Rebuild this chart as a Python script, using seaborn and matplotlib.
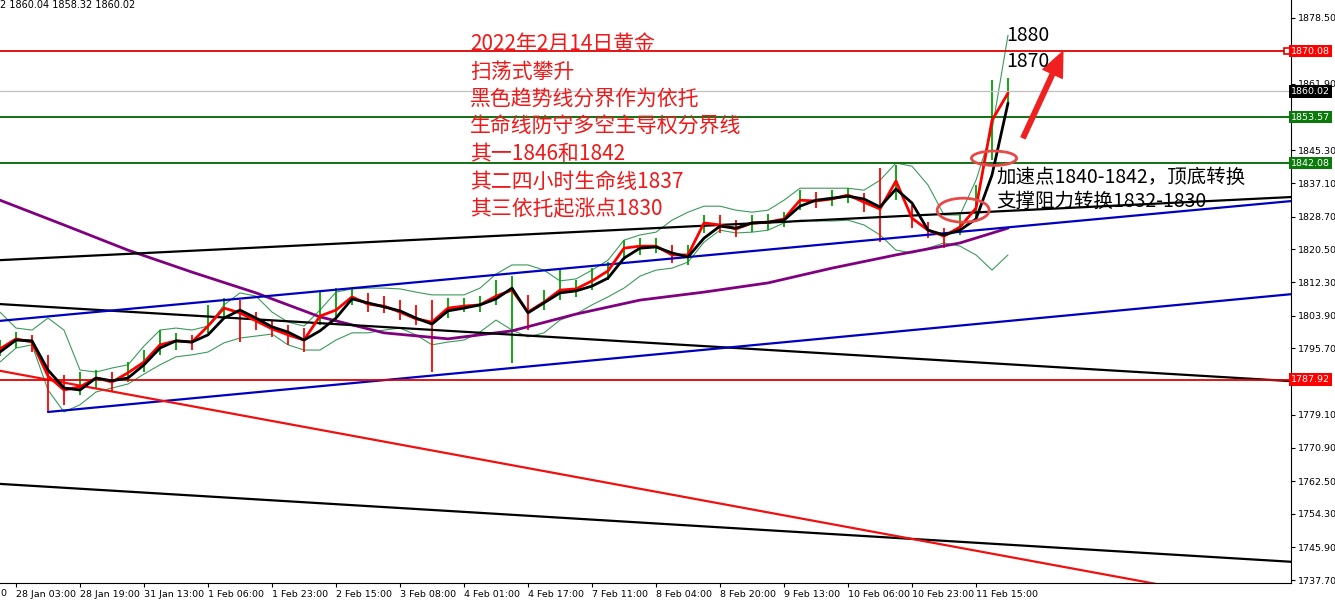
import numpy as np
import matplotlib
matplotlib.use("Agg")
import matplotlib.pyplot as plt
import matplotlib.transforms as mtransforms
from matplotlib.patches import Ellipse
import seaborn as sns

# XAUUSD H1, one sample every 4 bars (bar 0 = left edge of the window)
step = 4
ma_fast = [1795.6, 1798.1, 1797.3, 1788.8, 1785.3, 1786.1, 1788.3, 1787.3,
           1789.6, 1792.3, 1796.6, 1797.6, 1797.3, 1801.3, 1805.8, 1804.6,
           1802.6, 1800.6, 1799.1, 1797.8, 1803.8, 1805.3, 1808.6, 1806.8,
           1806.3, 1804.8, 1803.1, 1802.3, 1805.8, 1806.3, 1806.6, 1808.8,
           1810.3, 1804.8, 1807.3, 1810.3, 1810.6, 1812.6, 1815.1, 1820.8,
           1821.3, 1821.3, 1819.1, 1819.1, 1827.1, 1826.6, 1825.6, 1827.1,
           1827.3, 1828.1, 1832.8, 1832.6, 1833.1, 1834.1, 1832.3, 1830.6,
           1837.6, 1828.3, 1825.3, 1823.8, 1826.1, 1830.8, 1852.8, 1859.6]
ma_slow = [1794.8, 1797.8, 1797.6, 1790.3, 1785.8, 1785.3, 1788.3, 1787.6,
           1788.3, 1791.6, 1795.8, 1797.6, 1797.3, 1799.1, 1803.3, 1805.3,
           1803.3, 1801.1, 1799.8, 1797.8, 1800.1, 1803.3, 1808.1, 1807.1,
           1806.1, 1805.1, 1803.3, 1801.8, 1805.1, 1805.8, 1806.6, 1808.1,
           1810.8, 1804.6, 1807.1, 1809.6, 1810.1, 1811.3, 1813.3, 1818.3,
           1820.8, 1821.1, 1819.6, 1818.6, 1823.3, 1826.3, 1825.8, 1827.1,
           1827.3, 1827.8, 1831.3, 1832.8, 1833.3, 1833.8, 1833.1, 1831.1,
           1835.6, 1832.1, 1825.3, 1824.1, 1825.3, 1828.1, 1839.1, 1857.1]
band_up = [1804.8, 1800.8, 1800.3, 1803.3, 1800.3, 1790.3, 1789.8, 1790.8,
           1791.6, 1796.3, 1800.3, 1800.8, 1800.3, 1801.3, 1806.6, 1809.6,
           1808.8, 1804.8, 1802.3, 1801.3, 1805.3, 1809.8, 1810.6, 1810.8,
           1810.8, 1810.6, 1809.8, 1809.1, 1809.1, 1809.1, 1810.8, 1814.3,
           1816.6, 1816.6, 1815.3, 1812.6, 1813.1, 1815.3, 1817.8, 1822.8,
           1824.1, 1824.8, 1827.8, 1829.8, 1831.3, 1831.3, 1830.3, 1829.8,
           1830.3, 1832.8, 1835.8, 1835.8, 1835.8, 1835.8, 1835.3, 1837.8,
           1842.1, 1841.3, 1836.6, 1829.1, 1829.1, 1837.8, 1850.3, 1874.1]
band_dn = [1792.3, 1795.8, 1796.6, 1785.3, 1779.8, 1781.6, 1784.8, 1785.8,
           1786.8, 1789.3, 1791.6, 1793.6, 1794.1, 1794.8, 1797.1, 1798.3,
           1798.8, 1799.3, 1796.6, 1795.3, 1795.3, 1797.8, 1799.6, 1799.6,
           1800.3, 1800.8, 1799.1, 1796.6, 1797.3, 1797.8, 1799.8, 1802.8,
           1800.3, 1798.6, 1799.6, 1802.8, 1804.3, 1806.6, 1808.6, 1810.8,
           1813.8, 1815.3, 1815.8, 1817.3, 1822.3, 1825.3, 1824.6, 1824.8,
           1825.3, 1827.1, 1827.8, 1827.6, 1827.6, 1827.8, 1826.6, 1824.1,
           1820.3, 1819.6, 1820.8, 1822.1, 1821.3, 1819.1, 1815.3, 1819.1]
bar_high = [1797.8, 1799.8, 1799.1, 1794.1, 1789.1, 1789.8, 1790.3, 1789.8,
            1792.3, 1795.3, 1800.3, 1799.6, 1799.1, 1806.6, 1808.3, 1807.8,
            1804.8, 1802.8, 1801.6, 1800.8, 1810.3, 1810.8, 1810.8, 1809.6,
            1808.8, 1807.8, 1806.6, 1807.8, 1808.3, 1808.3, 1808.8, 1812.8,
            1813.8, 1809.1, 1810.3, 1815.3, 1812.8, 1815.8, 1817.3, 1822.8,
            1823.3, 1823.3, 1821.6, 1821.6, 1829.1, 1829.1, 1827.8, 1829.1,
            1829.3, 1829.8, 1835.3, 1834.8, 1835.3, 1835.8, 1834.6, 1840.8,
            1841.6, 1831.6, 1827.3, 1825.8, 1829.1, 1836.6, 1862.8, 1863.3]
bar_low = [1793.8, 1795.8, 1794.8, 1779.8, 1781.6, 1784.1, 1785.8, 1784.8,
           1787.3, 1789.8, 1794.1, 1795.3, 1795.3, 1799.6, 1803.3, 1797.3,
           1800.3, 1798.6, 1796.6, 1794.8, 1801.6, 1802.8, 1806.6, 1804.8,
           1804.6, 1802.8, 1801.6, 1789.8, 1803.3, 1804.8, 1804.8, 1806.6,
           1792.1, 1800.3, 1805.3, 1807.8, 1808.6, 1810.3, 1812.8, 1817.8,
           1819.1, 1819.6, 1817.1, 1816.6, 1824.6, 1824.6, 1823.6, 1824.8,
           1825.3, 1826.1, 1830.3, 1830.8, 1831.3, 1832.1, 1829.8, 1822.3,
           1832.8, 1825.8, 1823.3, 1820.8, 1824.1, 1828.3, 1842.8, 1857.3]

# long moving average (purple), own sample points
ma_long_bar = [0, 16, 32, 48, 64, 80, 96, 112, 128, 144, 160, 176, 192, 208, 224, 240, 252]
ma_long = [1832.8, 1826.6, 1820.3, 1814.8, 1809.6, 1803.6, 1799.6, 1798.1, 1800.1,
           1804.3, 1807.8, 1809.8, 1812.1, 1815.8, 1819.1, 1822.1, 1825.8]

# hand drawn trend lines: (bar, price) -> (bar, price)
trend_black = [((0, 1817.8), (323, 1833.6)),
               ((0, 1806.8), (323, 1787.5)),
               ((0, 1761.8), (323, 1742.3))]
trend_blue = [((0, 1802.6), (323, 1832.6)),
              ((12, 1779.8), (323, 1809.3))]
trend_red = [((0, 1790.1), (323, 1730.5))]

levels = [1870.08, 1860.02, 1853.57, 1842.08, 1787.92]
level_colors = ["#e00000", "#c0c0c0", "#006400", "#006400", "#e00000"]
level_box = ["#ff0000", "#000000", "#0a7a0a", "#0a7a0a", "#ff0000"]

y_ticks = [1878.50, 1861.90, 1845.30, 1837.10, 1828.70, 1820.50, 1812.30, 1803.90,
           1795.70, 1779.10, 1770.90, 1762.50, 1754.30, 1745.90, 1737.70]
x_labels = ["28 Jan 03:00", "28 Jan 19:00", "31 Jan 13:00", "1 Feb 06:00",
            "1 Feb 23:00", "2 Feb 15:00", "3 Feb 08:00", "4 Feb 01:00",
            "4 Feb 17:00", "7 Feb 11:00", "8 Feb 04:00", "8 Feb 20:00",
            "9 Feb 13:00", "10 Feb 06:00", "10 Feb 23:00", "11 Feb 15:00"]

notes = ["2022年2月14日黄金", "扫荡式攀升", "黑色趋势线分界作为依托",
         "生命线防守多空主导权分界线", "其一1846和1842",
         "其二四小时生命线1837", "其三依托起涨点1830"]

sns.set_style("white")
plt.rcParams['font.family'] = ['Noto Sans CJK SC', 'DejaVu Sans']

W, H = 1335, 604
fig = plt.figure(figsize=(W / 100, H / 100), dpi=100)
ax = fig.add_axes([0, 21 / H, 1291 / W, 583 / H])

bars = np.arange(len(ma_fast)) * step

# bollinger bands
sns.lineplot(x=bars, y=band_up, ax=ax, color="#3c9a5c", lw=0.8, zorder=2)
sns.lineplot(x=bars, y=band_dn, ax=ax, color="#3c9a5c", lw=0.8, zorder=2)

# price bars
prev = np.r_[ma_fast[0], ma_fast[:-1]]
cols = ["#00a000" if c >= p else "#ff0000" for c, p in zip(ma_fast, prev)]
ax.vlines(bars, bar_low, bar_high, colors=cols, lw=1.3, zorder=3)

sns.lineplot(x=ma_long_bar, y=ma_long, ax=ax, color="#800080", lw=2, zorder=3)

for (b0, p0), (b1, p1) in trend_black:
    ax.plot([b0, b1], [p0, p1], color="black", lw=1.6, zorder=4)
for (b0, p0), (b1, p1) in trend_blue:
    ax.plot([b0, b1], [p0, p1], color="#0000c0", lw=1.6, zorder=4)
for (b0, p0), (b1, p1) in trend_red:
    ax.plot([b0, b1], [p0, p1], color="#f01010", lw=1.6, zorder=4)

sns.lineplot(x=bars, y=ma_fast, ax=ax, color="#ff0000", lw=2, zorder=5)
sns.lineplot(x=bars, y=ma_slow, ax=ax, color="black", lw=2, zorder=6)

yx = mtransforms.blended_transform_factory(ax.transAxes, ax.transData)
for lv, lc, bc in zip(levels, level_colors, level_box):
    ax.axhline(lv, color=lc, lw=1.3 if lc != "#c0c0c0" else 0.9, zorder=4)
    ax.text(1.0, lv, "%.2f" % lv, transform=yx, ha="left", va="center",
            color="white", fontsize=6.8, family="DejaVu Sans", zorder=10,
            clip_on=False,
            bbox=dict(boxstyle="square,pad=0.18", fc=bc, ec="none"))
ax.plot([0.997], [levels[0]], marker="s", ms=4, mfc="white", mec="#e00000",
        mew=1.2, transform=yx, clip_on=False, zorder=8)

# support / breakout circles and target arrow
ax.add_patch(Ellipse((248.5, 1843.3), 11.3, 3.6, fill=False, ec="#e84848", lw=2, zorder=7))
ax.add_patch(Ellipse((240.8, 1830.3), 13.0, 6.0, fill=False, ec="#e84848", lw=2, zorder=7))
ax.annotate("", xy=(266.0, 1870.6), xytext=(255.5, 1847.8),
            arrowprops=dict(arrowstyle="simple,head_length=0.8,head_width=0.7,tail_width=0.15",
                            color="#f02020", mutation_scale=22), zorder=8)

ax.text(251.5, 1874.0, "1880", fontsize=14, color="black", va="center", zorder=9)
ax.text(251.5, 1867.6, "1870", fontsize=14, color="black", va="center", zorder=9)
ax.text(249.0, 1838.6, "加速点1840-1842，顶底转换", fontsize=14, color="black",
        va="center", zorder=9)
ax.text(249.0, 1832.4, "支撑阻力转换1832-1830", fontsize=14, color="black",
        va="center", zorder=9)

for i, t in enumerate(notes):
    fig.text(470 / W, 1 - (44 + 27.5 * i) / H, t, fontsize=15, color="#f01818",
             va="center", ha="left")

fig.text(0, 1 - 5 / H, "2 1860.04 1858.32 1860.02", fontsize=7, color="black",
         va="center", ha="left", family="DejaVu Sans")
# tail of the previous (scrolled-off) time label
fig.text(0, 1 - 593 / H, "0", fontsize=6.8, color="black", va="center",
         ha="left", family="DejaVu Sans")

ax.set_xlim(0, 1291 / 4)
ax.set_ylim(1737.0, 1882.9)

tick_bars = 3.9 + 16 * np.arange(len(x_labels))
ax.set_xticks(tick_bars)
ax.set_xticklabels(x_labels, ha="left", fontsize=6.8, family="DejaVu Sans")
ax.yaxis.tick_right()
ax.set_yticks(y_ticks)
ax.set_yticklabels(["%.2f" % v for v in y_ticks], fontsize=6.8, family="DejaVu Sans")
ax.tick_params(axis="both", length=3, width=0.8, pad=2, direction="out",
               bottom=True, right=True, colors="black")
ax.spines["top"].set_visible(False)
ax.spines["left"].set_visible(False)
ax.spines["right"].set_color("black")
ax.spines["bottom"].set_color("black")
ax.set_xlabel("")
ax.set_ylabel("")

fig.savefig("out.png", dpi=100)
